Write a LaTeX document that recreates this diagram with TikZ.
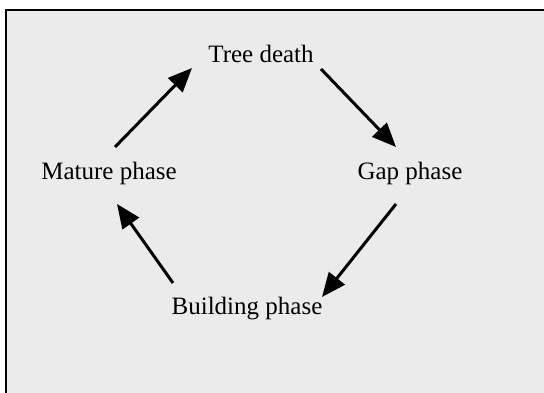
\documentclass[tikz,border=0pt]{standalone}
\usepackage{fontspec}
\setmainfont{Liberation Serif}
\usetikzlibrary{arrows.meta}
\begin{document}
\begin{tikzpicture}[x=1pt,y=1pt,
  lbl/.style={inner sep=0pt,anchor=base,font=\fontsize{25}{29}\selectfont},
  arr/.style={line width=3pt,-{Triangle[length=24pt,width=20pt]}}]
\useasboundingbox (0,0) rectangle (544,393);
\fill[white] (0,0) rectangle (544,393);
\fill[black!8] (6,0) rectangle (544,383);
\draw[line width=2pt] (6,0) -- (6,383) -- (544,383);
\node[lbl] (t) at (261,330) {Tree death};
\node[lbl] (g) at (410,213) {Gap phase};
\node[lbl] (m) at (109,213) {Mature phase};
\node[lbl] (b) at (247,78) {Building phase};
\draw[arr] ([shift={(6,33)}]m.base) -- ([shift={(-69,-5)}]t.base);
\draw[arr] ([shift={(60,-6)}]t.base) -- ([shift={(-14,33)}]g.base);
\draw[arr] ([shift={(-14,-24)}]g.base) -- ([shift={(75,18)}]b.base);
\draw[arr] ([shift={(-74,32)}]b.base) -- ([shift={(8,-24)}]m.base);
\end{tikzpicture}
\end{document}
